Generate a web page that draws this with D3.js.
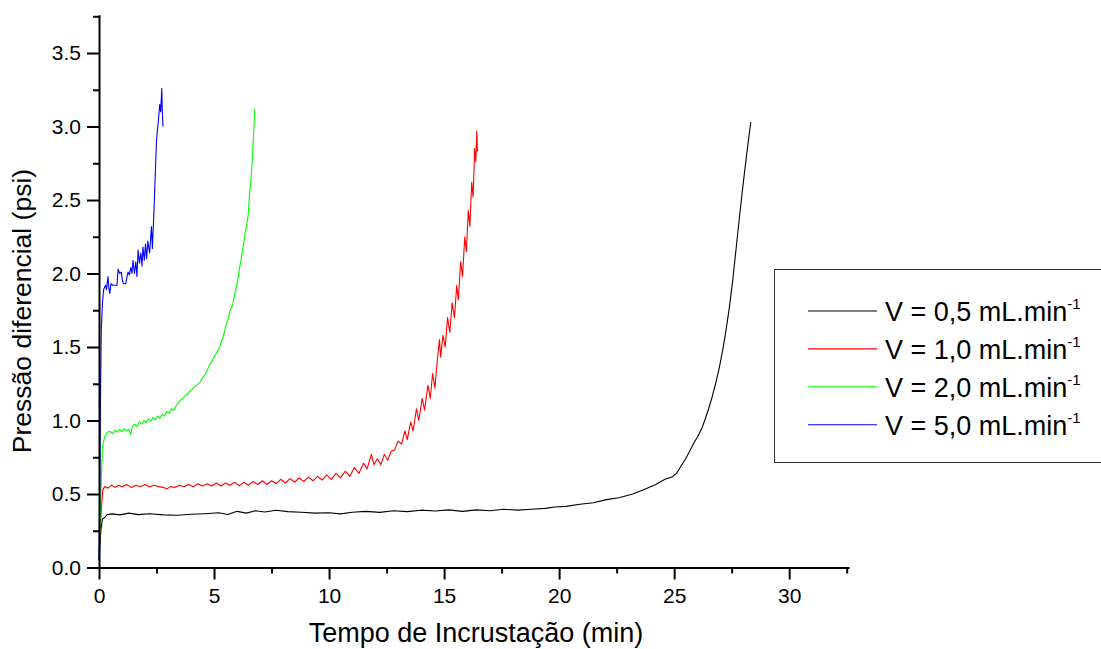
<!DOCTYPE html>
<html>
<head>
<meta charset="utf-8">
<script src="https://cdn.jsdelivr.net/npm/d3@7"></script>
<style>
  body { margin: 0; background: #fff; }
  svg { display: block; font-family: "Liberation Sans", Arial, sans-serif; }
</style>
</head>
<body>
<svg id="chart" width="1101" height="649"></svg>
<script>
"use strict";

// series, [time (min), pressure (psi)]
const serie05 = [
  [0, 0.05], [0.08, 0.25], [0.15, 0.33], [0.25, 0.34], [0.35, 0.36], [0.6, 0.365], [0.9, 0.358],
  [1.3, 0.37], [1.7, 0.36], [2.2, 0.366], [2.8, 0.358], [3.4, 0.355], [4.0, 0.362], [4.6, 0.366],
  [5.2, 0.372], [5.6, 0.36], [6.0, 0.382], [6.4, 0.37], [6.8, 0.386], [7.2, 0.378], [7.7, 0.39],
  [8.2, 0.38], [8.8, 0.376], [9.4, 0.37], [10.0, 0.372], [10.5, 0.365], [11.0, 0.376], [11.6, 0.382],
  [12.2, 0.375], [12.8, 0.386], [13.4, 0.38], [14.0, 0.39], [14.6, 0.384], [15.2, 0.392], [15.8, 0.382],
  [16.4, 0.392], [17.0, 0.386], [17.6, 0.396], [18.2, 0.39], [18.8, 0.396], [19.4, 0.402], [19.8, 0.412],
  [20.3, 0.416], [20.9, 0.43], [21.5, 0.44], [22.0, 0.46], [22.6, 0.475], [23.2, 0.5], [23.7, 0.53],
  [24.2, 0.565], [24.6, 0.6], [24.9, 0.615], [25.1, 0.64], [25.3, 0.69], [25.5, 0.74], [25.7, 0.8],
  [25.85, 0.845], [26.0, 0.885], [26.2, 0.945], [26.35, 1.01], [26.5, 1.08], [26.65, 1.16], [26.8, 1.25],
  [26.95, 1.35], [27.1, 1.47], [27.25, 1.61], [27.4, 1.77], [27.55, 1.96], [27.7, 2.18], [27.85, 2.4],
  [28.0, 2.61], [28.15, 2.81], [28.33, 3.03]
];

const serie10 = [
  [0, 0.2], [0.05, 0.25], [0.1, 0.4], [0.17, 0.53], [0.25, 0.55], [0.4, 0.54], [0.55, 0.56], [0.7, 0.545],
  [0.85, 0.56], [1.0, 0.55], [1.2, 0.565], [1.4, 0.545], [1.6, 0.56], [1.8, 0.55], [2.0, 0.565], [2.2, 0.55],
  [2.4, 0.56], [2.6, 0.55], [2.8, 0.545], [2.95, 0.535], [3.1, 0.55], [3.3, 0.545], [3.5, 0.56], [3.7, 0.55],
  [3.9, 0.565], [4.1, 0.55], [4.3, 0.57], [4.5, 0.555], [4.7, 0.57], [4.9, 0.555], [5.1, 0.575], [5.3, 0.555],
  [5.5, 0.575], [5.7, 0.56], [5.9, 0.58], [6.1, 0.555], [6.3, 0.58], [6.5, 0.56], [6.7, 0.585], [6.9, 0.565],
  [7.1, 0.59], [7.3, 0.565], [7.5, 0.59], [7.7, 0.57], [7.9, 0.6], [8.1, 0.575], [8.3, 0.605], [8.5, 0.58],
  [8.7, 0.61], [8.9, 0.585], [9.1, 0.615], [9.3, 0.59], [9.5, 0.62], [9.7, 0.595], [9.9, 0.63], [10.1, 0.6],
  [10.3, 0.64], [10.5, 0.61], [10.7, 0.655], [10.9, 0.62], [11.1, 0.68], [11.3, 0.64], [11.5, 0.71],
  [11.65, 0.67], [11.84, 0.77], [11.95, 0.7], [12.1, 0.74], [12.25, 0.7], [12.4, 0.77], [12.55, 0.73],
  [12.7, 0.79], [12.85, 0.8], [13.0, 0.86], [13.15, 0.84], [13.3, 0.93], [13.4, 0.87], [13.55, 0.99],
  [13.65, 0.93], [13.8, 1.08], [13.9, 1.0], [14.05, 1.15], [14.15, 1.07], [14.3, 1.24], [14.4, 1.15],
  [14.5, 1.32], [14.6, 1.22], [14.7, 1.4], [14.8, 1.55], [14.85, 1.43], [14.95, 1.58], [15.05, 1.5],
  [15.15, 1.7], [15.25, 1.6], [15.35, 1.8], [15.45, 1.7], [15.55, 1.92], [15.62, 1.82], [15.72, 2.08],
  [15.8, 1.98], [15.9, 2.25], [15.97, 2.15], [16.05, 2.43], [16.12, 2.32], [16.2, 2.62], [16.26, 2.52],
  [16.33, 2.85], [16.38, 2.76], [16.42, 2.97], [16.45, 2.83]
];

const serie20 = [
  [0, 0.08], [0.05, 0.3], [0.1, 0.6], [0.15, 0.82], [0.25, 0.89], [0.35, 0.92], [0.5, 0.925], [0.6, 0.91],
  [0.7, 0.935], [0.8, 0.92], [0.9, 0.94], [1.0, 0.925], [1.1, 0.945], [1.2, 0.93], [1.3, 0.94], [1.38, 0.905],
  [1.45, 0.96], [1.55, 0.975], [1.65, 0.96], [1.75, 0.99], [1.85, 0.975], [1.95, 1.0], [2.05, 0.985],
  [2.15, 1.01], [2.25, 0.995], [2.35, 1.02], [2.45, 1.005], [2.55, 1.03], [2.65, 1.015], [2.75, 1.045],
  [2.85, 1.03], [2.95, 1.06], [3.05, 1.05], [3.15, 1.08], [3.25, 1.07], [3.35, 1.1], [3.45, 1.12],
  [3.55, 1.14], [3.65, 1.15], [3.75, 1.17], [3.85, 1.18], [3.95, 1.2], [4.05, 1.21], [4.15, 1.23],
  [4.25, 1.24], [4.38, 1.26], [4.5, 1.29], [4.6, 1.31], [4.7, 1.34], [4.81, 1.38], [4.9, 1.4], [5.0, 1.43],
  [5.1, 1.46], [5.25, 1.5], [5.35, 1.55], [5.45, 1.6], [5.54, 1.66], [5.63, 1.7], [5.7, 1.75], [5.77, 1.77],
  [5.83, 1.8], [5.9, 1.86], [5.97, 1.91], [6.04, 1.96], [6.1, 2.03], [6.19, 2.11], [6.26, 2.18], [6.33, 2.25],
  [6.4, 2.31], [6.48, 2.39], [6.55, 2.55], [6.6, 2.62], [6.67, 2.8], [6.72, 2.95], [6.77, 3.12]
];

const serie50 = [
  [0, 0.05], [0.03, 0.5], [0.06, 1.1], [0.1, 1.62], [0.15, 1.8], [0.2, 1.89], [0.25, 1.91], [0.29, 1.92],
  [0.33, 1.89], [0.39, 1.98], [0.43, 1.9], [0.47, 1.865], [0.52, 1.93], [0.6, 1.92], [0.78, 1.92],
  [0.83, 2.03], [0.9, 2.0], [0.97, 2.01], [1.02, 1.95], [1.07, 1.93], [1.16, 1.93], [1.22, 1.98],
  [1.26, 2.01], [1.32, 1.99], [1.38, 2.04], [1.43, 2.0], [1.48, 2.09], [1.54, 2.0], [1.6, 2.08],
  [1.65, 1.98], [1.7, 2.16], [1.76, 2.07], [1.82, 2.14], [1.87, 2.05], [1.91, 2.18], [1.97, 2.09],
  [2.02, 2.2], [2.07, 2.1], [2.12, 2.22], [2.2, 2.14], [2.28, 2.32], [2.32, 2.17], [2.38, 2.39],
  [2.44, 2.65], [2.5, 2.91], [2.57, 3.02], [2.64, 3.15], [2.68, 3.1], [2.73, 3.26], [2.75, 3.11], [2.78, 3.0]
];

const seriesNames = ["V = 0,5 mL.min", "V = 1,0 mL.min", "V = 2,0 mL.min", "V = 5,0 mL.min"];
const seriesColors = ["#000000", "#ff0000", "#00ff00", "#0000ff"];
const seriesData = [serie05, serie10, serie20, serie50];

const xMajor = [0, 5, 10, 15, 20, 25, 30];
const xMinor = [2.5, 7.5, 12.5, 17.5, 22.5, 27.5, 32.5];
const yMajor = [0, 0.5, 1.0, 1.5, 2.0, 2.5, 3.0, 3.5];
const yMinor = [0.25, 0.75, 1.25, 1.75, 2.25, 2.75, 3.25, 3.75];

const svg = d3.select("#chart");

const x = d3.scaleLinear().domain([0, 32.6]).range([99, 849]);
const y = d3.scaleLinear().domain([0, 3.76]).range([567.5, 14.8]);

// curves first so the axes sit on top
const line = d3.line().x(d => x(d[0])).y(d => y(d[1]));
svg.append("g")
  .selectAll("path")
  .data(seriesData)
  .join("path")
  .attr("d", line)
  .attr("fill", "none")
  .attr("stroke", (d, i) => seriesColors[i])
  .attr("stroke-width", 1.1)
  .attr("stroke-linejoin", "round");

// x axis
const xAxis = svg.append("g").attr("transform", `translate(0,${y(0)})`);
xAxis.call(d3.axisBottom(x).tickValues(xMajor).tickSize(12).tickSizeOuter(0).tickPadding(6)
  .tickFormat(d3.format("d")));
xAxis.append("g").call(d3.axisBottom(x).tickValues(xMinor).tickSize(6).tickFormat(""))
  .select(".domain").remove();

// y axis
const yAxis = svg.append("g").attr("transform", `translate(${x(0)},0)`);
yAxis.call(d3.axisLeft(y).tickValues(yMajor).tickSize(12).tickSizeOuter(0).tickPadding(6)
  .tickFormat(d3.format(".1f")));
yAxis.append("g").call(d3.axisLeft(y).tickValues(yMinor).tickSize(6).tickFormat(""))
  .select(".domain").remove();

svg.selectAll(".domain").attr("stroke", "#000").attr("stroke-width", 2);
svg.selectAll(".tick line").attr("stroke", "#000").attr("stroke-width", 2);
svg.selectAll(".tick text")
  .attr("fill", "#000")
  .style("font-size", "21px")
  .style("font-family", "'Liberation Sans', Arial, sans-serif");
xAxis.selectAll(".tick text").attr("dy", "0.85em");

// axis titles
svg.append("text")
  .attr("x", 476)
  .attr("y", 642)
  .attr("text-anchor", "middle")
  .style("font-size", "27px")
  .text("Tempo de Incrustação (min)");

svg.append("text")
  .attr("transform", "translate(31,311) rotate(-90)")
  .attr("text-anchor", "middle")
  .style("font-size", "26.5px")
  .text("Pressão diferencial (psi)");

// legend
const legend = svg.append("g");
legend.append("rect")
  .attr("x", 774.5)
  .attr("y", 269.5)
  .attr("width", 340)
  .attr("height", 193)
  .attr("fill", "#fff")
  .attr("stroke", "#333")
  .attr("stroke-width", 1);

const rows = legend.selectAll("g.row")
  .data(seriesNames)
  .join("g")
  .attr("class", "row")
  .attr("transform", (d, i) => `translate(0,${311 + i * 37.9})`);

rows.append("line")
  .attr("x1", 808)
  .attr("x2", 877)
  .attr("stroke", (d, i) => seriesColors[i])
  .attr("stroke-width", 1.1);

const label = rows.append("text")
  .attr("x", 885)
  .attr("y", 10)
  .style("font-size", "27px");
label.append("tspan").text(d => d);
label.append("tspan")
  .attr("dy", -12)
  .style("font-size", "15px")
  .text("-1");
</script>
</body>
</html>
